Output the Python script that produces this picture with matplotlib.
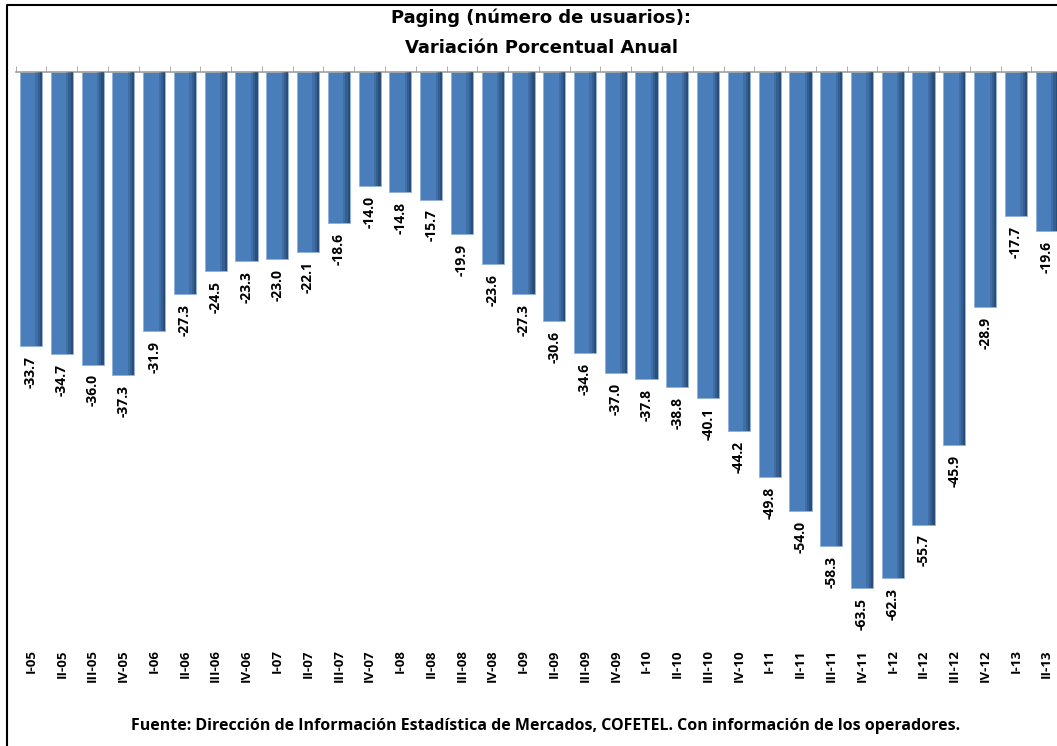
#importing library
import matplotlib.pyplot as plt

#quarters and yearly percent change of paging users

quarters = ["I-05", "II-05", "III-05", "IV-05", "I-06", "II-06", "III-06", "IV-06",
            "I-07", "II-07", "III-07", "IV-07", "I-08", "II-08", "III-08", "IV-08",
            "I-09", "II-09", "III-09", "IV-09", "I-10", "II-10", "III-10", "IV-10",
            "I-11", "II-11", "III-11", "IV-11", "I-12", "II-12", "III-12", "IV-12",
            "I-13", "II-13"]
variation = [-33.7, -34.7, -36.0, -37.3, -31.9, -27.3, -24.5, -23.3,
             -23.0, -22.1, -18.6, -14.0, -14.8, -15.7, -19.9, -23.6,
             -27.3, -30.6, -34.6, -37.0, -37.8, -38.8, -40.1, -44.2,
             -49.8, -54.0, -58.3, -63.5, -62.3, -55.7, -45.9, -28.9,
             -17.7, -19.6]

title_text = "Paging (número de usuarios):\nVariación Porcentual Anual"
source_text = ("Fuente: Dirección de Información Estadística de Mercados, COFETEL. "
               "Con información de los operadores.")

fig = plt.figure(figsize=(10.57, 7.46), dpi=100)
ax = fig.add_axes([0.0148, 0.1408, 0.99, 0.7627])

x = list(range(len(quarters)))
bar_w = 0.72

#main bars
ax.bar(x, variation, width=bar_w, color="#4A7EBB", edgecolor="#8FB0DA",
       linewidth=0.6, zorder=2)

#darker shading on the right side of each bar
for frac, alpha in [(0.30, 0.18), (0.20, 0.25), (0.10, 0.35)]:
    ax.bar([i + bar_w / 2 - bar_w * frac for i in x], variation,
           width=bar_w * frac, align="edge", color="#15304F", alpha=alpha,
           linewidth=0, zorder=3)

#value labels under each bar
for i, v in zip(x, variation):
    ax.annotate(f"{v:.1f}", xy=(i, v), xytext=(0, -7), textcoords="offset points",
                rotation=90, ha="center", va="top", fontsize=10,
                fontweight="bold", family="Open Sans")

ax.set_xlim(-0.5, len(quarters) - 0.5)
ax.set_ylim(-70, 0)

for s in ["left", "right", "bottom"]:
    ax.spines[s].set_visible(False)
ax.spines["top"].set_color("#A0A0A0")
ax.spines["top"].set_linewidth(1.2)

ax.set_yticks([])
ax.set_xticks(x)
ax.set_xticklabels(quarters, rotation=90, fontsize=9.5, fontweight="bold",
                   family="Open Sans", va="top")
ax.tick_params(axis="x", which="major", length=0, pad=6)
ax.set_xticks([i + 0.5 for i in x[:-1]] + [-0.5], minor=True)
ax.tick_params(axis="x", which="minor", top=True, bottom=False,
               direction="out", length=4, color="#A0A0A0")

fig.text(0.512, 0.988, title_text, ha="center", va="top", fontsize=13,
         fontweight="bold", linespacing=1.85)
fig.text(0.516, 0.027, source_text, ha="center", va="center", fontsize=11.5,
         fontweight="bold", family="Open Sans")

#frame line on left and top
fig.add_artist(plt.Line2D([0.0066, 0.0066, 1.0], [0.0, 0.9933, 0.9933],
                          transform=fig.transFigure, color="black", lw=1.5))

fig.savefig("out.png", dpi=100)
